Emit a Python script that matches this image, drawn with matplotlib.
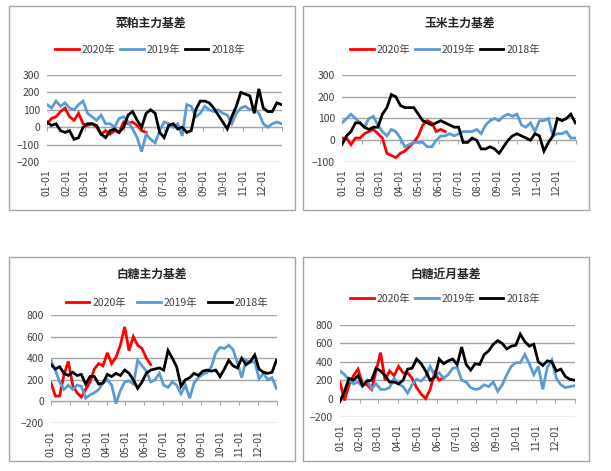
import numpy as np
import matplotlib.pyplot as plt
from matplotlib.patches import Rectangle

plt.rcParams['font.family'] = ['Noto Sans CJK SC', 'DejaVu Sans']

# month starts (day of year) and their labels
month_starts = [0, 31, 59, 90, 120, 151, 181, 212, 243, 273, 304, 334]
month_labels = ['01-01', '02-01', '03-01', '04-01', '05-01', '06-01',
                '07-01', '08-01', '09-01', '10-01', '11-01', '12-01']
years = ['2020年', '2019年', '2018年']
colors = ['#ff0000', '#5b9bd5', '#000000']

# weekly readings of the basis (one value every 7 days from 01-01)
# 菜粕主力基差
meal_2020 = [20, 50, 60, 90, 110, 60, 40, 80, 20, 10, 20, 0, -40, -20, -40,
             -20, -30, 30, 20, 30, 10, -20, -30]
meal_2019 = [130, 110, 150, 120, 140, 110, 100, 130, 150, 80, 60, 40, 70, 20,
             20, 0, 50, 60, 30, -10, -60, -140, -40, -70, -90, -20, 30, 20, 0,
             20, -50, 130, 120, 60, 80, 120, 100, 90, 100, 80, 70, 20, 80, 110,
             120, 100, 110, 80, 20, 0, 20, 30, 20]
meal_2018 = [30, 10, 20, -20, -30, -20, -70, -60, 0, 20, 20, 10, -40, -60, -20,
             -10, -30, 0, 70, 90, 40, 0, 80, 100, 80, -30, -60, 10, 20, -10, 0,
             -30, -20, 100, 150, 150, 140, 110, 70, 30, -10, 60, 120, 200, 190,
             180, 80, 220, 110, 90, 90, 140, 130]

# 玉米主力基差
corn_2020 = [10, 10, -20, 10, 10, 30, 40, 50, 30, 10, -60, -70, -80, -60, -50,
             -30, -10, 20, 70, 90, 80, 40, 50, 40]
corn_2019 = [80, 100, 120, 100, 80, 60, 100, 110, 70, 40, 20, 50, 40, 10, -30,
             -20, -10, -10, -10, -30, -30, 0, 20, 20, 30, 20, 30, 40, 40, 40, 50,
             30, 70, 90, 100, 90, 110, 120, 110, 120, 70, 60, 80, 40, 90, 90,
             100, 20, 30, 30, 40, 10, 10]
corn_2018 = [-20, 20, 40, 80, 80, 60, 50, 60, 60, 120, 150, 210, 200, 160, 150,
             150, 150, 120, 90, 80, 70, 80, 90, 80, 70, 60, 60, -10, -10, 10, 0,
             -40, -40, -30, -40, -60, -30, 0, 20, 30, 20, 10, 0, 30, 20, -50,
             -10, 20, 100, 90, 100, 120, 80]

# 白糖主力基差
sugar_2020 = [170, 50, 50, 250, 370, 150, 80, 40, 110, 180, 300, 350, 330, 450,
              350, 410, 520, 690, 470, 600, 520, 490, 400, 340]
sugar_2019 = [380, 290, 180, 110, 150, 110, 150, 140, 30, 60, 80, 110, 170, 200,
              150, -20, 100, 180, 190, 160, 380, 330, 280, 180, 200, 260, 150,
              130, 180, 150, 70, 150, 30, 170, 220, 250, 270, 320, 450, 500, 490,
              520, 480, 360, 220, 380, 360, 370, 210, 260, 200, 220, 120]
sugar_2018 = [340, 300, 320, 260, 240, 270, 240, 250, 160, 230, 230, 160, 170,
              250, 230, 260, 240, 290, 260, 200, 120, 180, 260, 290, 300, 310,
              290, 470, 400, 320, 140, 200, 220, 260, 240, 280, 290, 280, 290,
              230, 300, 380, 330, 310, 400, 340, 370, 430, 300, 270, 260, 270, 380]

# 白糖近月基差
near_2020 = [180, -20, 150, 250, 320, 160, 150, 100, 300, 500, 200, 300, 250,
             350, 280, 280, 220, 120, 50, 0, 100, 280, 200, 230]
near_2019 = [300, 260, 200, 160, 180, 130, 200, 110, 160, 100, 100, 120, 220,
             160, 130, 60, 150, 210, 190, 240, 350, 250, 280, 220, 260, 330, 340,
             200, 180, 120, 100, 110, 150, 130, 180, 80, 150, 260, 350, 390, 390,
             480, 380, 260, 350, 100, 340, 420, 220, 150, 120, 130, 140]
near_2018 = [-30, 80, 220, 200, 250, 140, 190, 200, 330, 300, 250, 180, 180, 160,
             200, 320, 330, 430, 380, 300, 200, 230, 430, 380, 410, 430, 370, 560,
             370, 310, 380, 370, 480, 520, 590, 630, 600, 540, 570, 580, 700, 620,
             570, 590, 400, 360, 410, 400, 300, 320, 240, 210, 200]

W, H = 611, 471
fig = plt.figure(figsize=(W / 100, H / 100), dpi=100)


def fig_rect(x0, y0, x1, y1):
    return [x0 / W, 1 - y1 / H, (x1 - x0) / W, (y1 - y0) / H]


def draw_panel(box, plot, title, title_xy, legend_xy, colspace, series, ylim, yticks):
    bx = fig_rect(*box)
    fig.add_artist(Rectangle((bx[0], bx[1]), bx[2], bx[3], transform=fig.transFigure,
                             fill=False, edgecolor='#a6a6a6', lw=1))
    ax = fig.add_axes(fig_rect(*plot))
    handles = []
    for vals, c in zip(series, colors):
        days = np.arange(len(vals)) * 7
        h, = ax.plot(days, vals, color=c, lw=2.0, solid_joinstyle='miter')
        handles.append(h)
    ax.set_xlim(0, 365)
    ax.set_ylim(*ylim)
    ax.set_yticks(yticks)
    ax.set_xticks(month_starts)
    ax.set_xticklabels(month_labels, rotation=90)
    ax.tick_params(axis='both', length=0, labelsize=7.5, colors='#404040')
    ax.tick_params(axis='x', pad=5)
    ax.tick_params(axis='y', pad=5)
    ax.yaxis.grid(True, color='#a6a6a6', lw=1)
    ax.set_axisbelow(True)
    for s in ax.spines.values():
        s.set_visible(False)
    # category axis crossing at zero
    frac = (0 - ylim[0]) / (ylim[1] - ylim[0])
    sec = ax.secondary_xaxis(frac)
    sec.set_xticks(month_starts + [365])
    sec.tick_params(length=3, direction='out', color='#a6a6a6', labelbottom=False,
                    labeltop=False)
    for s in sec.spines.values():
        s.set_color('#a6a6a6')
    fig.text(title_xy[0] / W, 1 - title_xy[1] / H, title, ha='center', va='center',
             fontsize=8.5, fontweight='bold', color='#262626')
    ax.legend(handles, years, ncol=3, loc='center',
              bbox_to_anchor=(legend_xy[0] / W, 1 - legend_xy[1] / H),
              bbox_transform=fig.transFigure, frameon=False, fontsize=7.5,
              handlelength=2.3, handletextpad=0.3, columnspacing=colspace,
              labelcolor='#404040')
    return ax


draw_panel((9, 6, 295, 210), (47, 75, 282, 162), '菜粕主力基差', (151, 23), (150, 50), 0.4,
           [meal_2020, meal_2019, meal_2018], (-200, 300), [-200, -100, 0, 100, 200, 300])
draw_panel((303, 6, 589, 210), (342, 75, 576, 162), '玉米主力基差', (460, 23), (445, 50), 0.4,
           [corn_2020, corn_2019, corn_2018], (-100, 300), [-100, 0, 100, 200, 300])
draw_panel((9, 257, 295, 461), (51, 315, 277, 423), '白糖主力基差', (152, 274), (167, 303), 1.0,
           [sugar_2020, sugar_2019, sugar_2018], (-200, 800), [-200, 0, 200, 400, 600, 800])
draw_panel((303, 257, 589, 461), (340, 325, 575, 417), '白糖近月基差', (446, 274), (445, 299), 0.4,
           [near_2020, near_2019, near_2018], (-200, 800), [-200, 0, 200, 400, 600, 800])

fig.savefig('out.png', dpi=100)
